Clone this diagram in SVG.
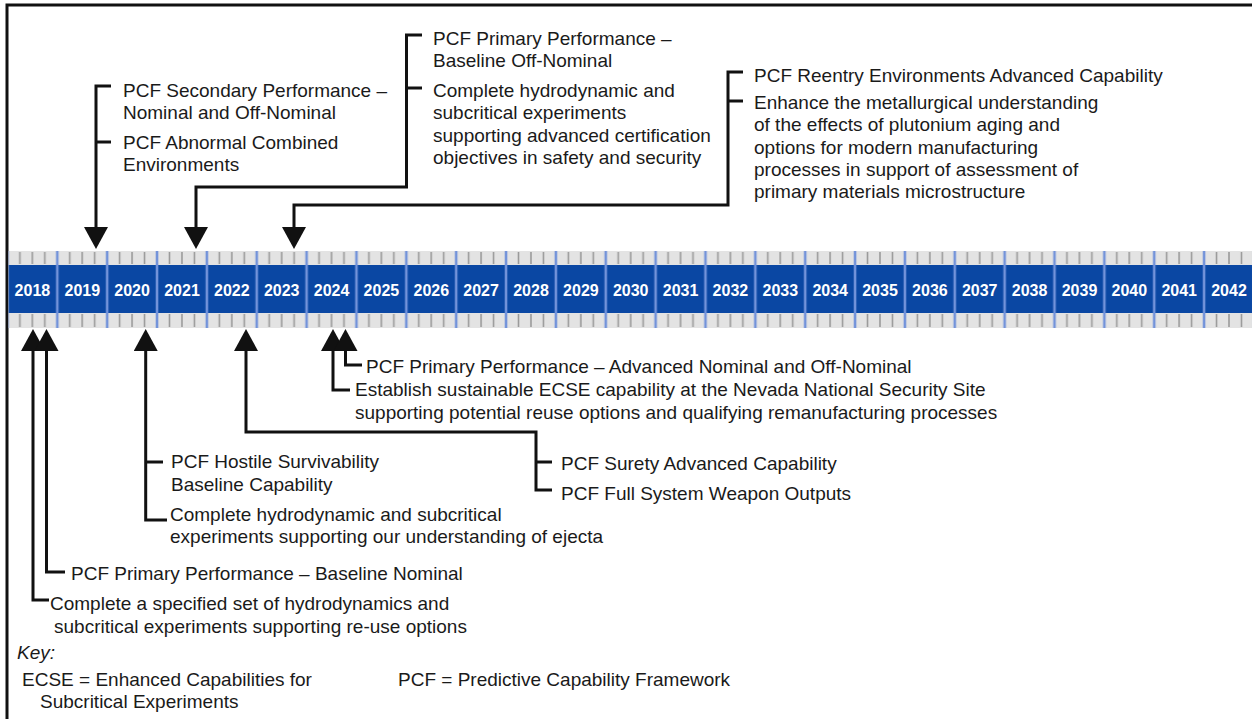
<svg xmlns="http://www.w3.org/2000/svg" width="1252" height="719" viewBox="0 0 1252 719">
<style>
.t{font-family:"Liberation Sans",Arial,sans-serif;font-size:19px;fill:#1a1a1a}
.k{font-style:italic}
.yr{font-family:"Liberation Sans",Arial,sans-serif;font-size:16px;font-weight:bold;fill:#ffffff;text-anchor:middle}
.c{fill:none;stroke:#111;stroke-width:3;stroke-linejoin:miter;stroke-linecap:butt}
</style>
<defs>
<pattern id="band" patternUnits="userSpaceOnUse" x="55.3" y="251" width="49.86" height="77">
<rect x="0" y="0" width="49.86" height="77" fill="#e3e3e3"/>
<rect x="0" y="14" width="49.86" height="48" fill="#0a47a3"/>
<path d="M14.47,1V13M26.93,1V13M39.4,1V13M14.47,63V76M26.93,63V76M39.4,63V76" stroke="#9a9a9a" stroke-width="1.6"/>
<path d="M2,0V77" stroke="#7393da" stroke-width="2.6"/>
</pattern>
<marker id="ah" markerUnits="userSpaceOnUse" viewBox="0 -12 22 24" markerWidth="22" markerHeight="24" refX="0" refY="0" orient="auto">
<path d="M0,-12L22,0L0,12Z" fill="#111"/>
</marker>
</defs>
<rect width="1252" height="719" fill="#ffffff"/>
<path d="M7,719V5H1252" fill="none" stroke="#111" stroke-width="3"/>
<g id="timeline">
<rect x="8.5" y="251" width="1243.5" height="77" fill="url(#band)"/>
<text class="yr" x="32.4" y="296">2018</text>
<text class="yr" x="82.3" y="296">2019</text>
<text class="yr" x="132.1" y="296">2020</text>
<text class="yr" x="182" y="296">2021</text>
<text class="yr" x="231.8" y="296">2022</text>
<text class="yr" x="281.7" y="296">2023</text>
<text class="yr" x="331.6" y="296">2024</text>
<text class="yr" x="381.4" y="296">2025</text>
<text class="yr" x="431.3" y="296">2026</text>
<text class="yr" x="481.1" y="296">2027</text>
<text class="yr" x="531" y="296">2028</text>
<text class="yr" x="580.9" y="296">2029</text>
<text class="yr" x="630.7" y="296">2030</text>
<text class="yr" x="680.6" y="296">2031</text>
<text class="yr" x="730.4" y="296">2032</text>
<text class="yr" x="780.3" y="296">2033</text>
<text class="yr" x="830.2" y="296">2034</text>
<text class="yr" x="880" y="296">2035</text>
<text class="yr" x="929.9" y="296">2036</text>
<text class="yr" x="979.7" y="296">2037</text>
<text class="yr" x="1029.6" y="296">2038</text>
<text class="yr" x="1079.5" y="296">2039</text>
<text class="yr" x="1129.3" y="296">2040</text>
<text class="yr" x="1179.2" y="296">2041</text>
<text class="yr" x="1229" y="296">2042</text>
</g>
<g id="connectors">
<path class="c" d="M111,86H96V227" marker-end="url(#ah)"/>
<path class="c" d="M96,142H111"/>
<path class="c" d="M422,35H406.5V187H196V227" marker-end="url(#ah)"/>
<path class="c" d="M406.5,88H422"/>
<path class="c" d="M743,72H728V205H294V227" marker-end="url(#ah)"/>
<path class="c" d="M728,101H743"/>
<path class="c" d="M49,600H33V351" marker-end="url(#ah)"/>
<path class="c" d="M65,572H46.5V351" marker-end="url(#ah)"/>
<path class="c" d="M167,520H145.7V351" marker-end="url(#ah)"/>
<path class="c" d="M145.7,462H163"/>
<path class="c" d="M552,490H536V432H246V351" marker-end="url(#ah)"/>
<path class="c" d="M536,462H552"/>
<path class="c" d="M350,390H333V351" marker-end="url(#ah)"/>
<path class="c" d="M362,365H345.5V351" marker-end="url(#ah)"/>
</g>
<g id="m2019-top">
<text class="t" x="123" y="97">PCF Secondary Performance –</text>
<text class="t" x="123" y="119">Nominal and Off-Nominal</text>
<text class="t" x="123" y="149">PCF Abnormal Combined</text>
<text class="t" x="123" y="171">Environments</text>
</g>
<g id="m2021-top">
<text class="t" x="433" y="45">PCF Primary Performance –</text>
<text class="t" x="433" y="67">Baseline Off-Nominal</text>
<text class="t" x="433" y="97">Complete hydrodynamic and</text>
<text class="t" x="433" y="119">subcritical experiments</text>
<text class="t" x="433" y="141.5">supporting advanced certification</text>
<text class="t" x="433" y="164">objectives in safety and security</text>
</g>
<g id="m2023-top">
<text class="t" x="754" y="82">PCF Reentry Environments Advanced Capability</text>
<text class="t" x="754" y="109">Enhance the metallurgical understanding</text>
<text class="t" x="754" y="131">of the effects of plutonium aging and</text>
<text class="t" x="754" y="153.5">options for modern manufacturing</text>
<text class="t" x="754" y="176">processes in support of assessment of</text>
<text class="t" x="754" y="198">primary materials microstructure</text>
</g>
<g id="m2024-bottom">
<text class="t" x="366" y="373">PCF Primary Performance – Advanced Nominal and Off-Nominal</text>
<text class="t" x="355" y="396">Establish sustainable ECSE capability at the Nevada National Security Site</text>
<text class="t" x="355" y="419">supporting potential reuse options and qualifying remanufacturing processes</text>
</g>
<g id="m2022-bottom">
<text class="t" x="561" y="470">PCF Surety Advanced Capability</text>
<text class="t" x="561" y="500">PCF Full System Weapon Outputs</text>
</g>
<g id="m2020-bottom">
<text class="t" x="171" y="468">PCF Hostile Survivability</text>
<text class="t" x="171" y="491">Baseline Capability</text>
<text class="t" x="170" y="521">Complete hydrodynamic and subcritical</text>
<text class="t" x="170" y="543">experiments supporting our understanding of ejecta</text>
</g>
<g id="m2018-bottom">
<text class="t" x="71" y="580">PCF Primary Performance – Baseline Nominal</text>
<text class="t" x="50" y="610">Complete a specified set of hydrodynamics and</text>
<text class="t" x="54" y="633">subcritical experiments supporting re-use options</text>
</g>
<g id="key">
<text class="t k" x="17" y="659">Key:</text>
<text class="t" x="22" y="686">ECSE = Enhanced Capabilities for</text>
<text class="t" x="40" y="708">Subcritical Experiments</text>
<text class="t" x="398" y="686">PCF = Predictive Capability Framework</text>
</g>
</svg>
